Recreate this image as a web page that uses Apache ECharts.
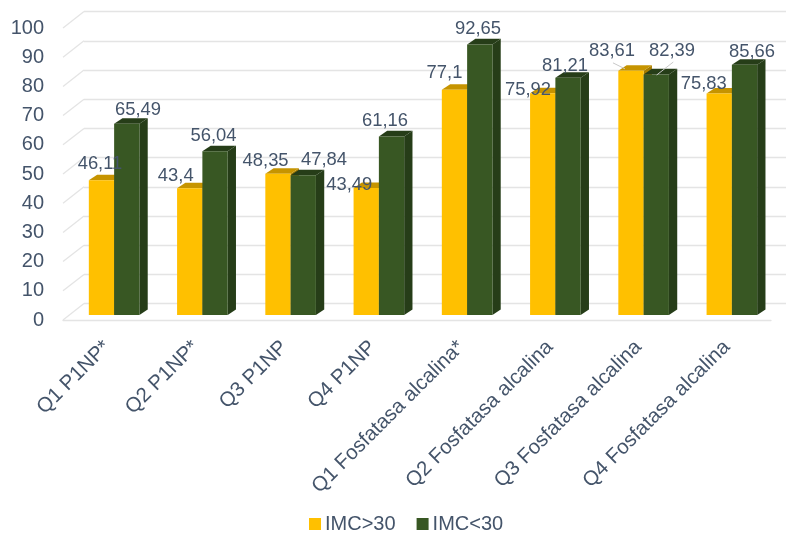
<!DOCTYPE html>
<html>
<head>
<meta charset="utf-8">
<style>html,body{margin:0;padding:0;background:#fff}#c{width:786px;height:534px}</style>
<script src="https://cdn.jsdelivr.net/npm/echarts@6/dist/echarts.min.js"></script>
</head>
<body>
<div id="c"></div>
<script>
// Values per quartile and marker
const categories = ['Q1 P1NP*','Q2 P1NP*','Q3 P1NP','Q4 P1NP','Q1 Fosfatasa alcalina*','Q2 Fosfatasa alcalina','Q3 Fosfatasa alcalina','Q4 Fosfatasa alcalina'];
const imcOver30 = [46.11,43.4,48.35,43.49,77.1,75.92,83.61,75.83];
const imcUnder30 = [65.49,56.04,47.84,61.16,92.65,81.21,82.39,85.66];
const valueTicks = [0,10,20,30,40,50,60,70,80,90,100];

// Hand-placed label offsets (px) from each bar's top centre
const overLabelShift = [[-1.5,-16],[-14,-12],[-12.4,-13],[-17,-3],[-10,-17],[-14.7,-3],[-19,-20],[-15.5,-9.6]];
const underLabelShift = [[11.2,-14],[-1.5,-15.4],[20.7,-15],[-6.5,-15],[-1.8,-15.5],[-3,-12],[15.7,-23],[7.5,-13]];
// Leader lines for the two crowded labels: series, category, then start and end offsets
const leaders = [[0,6,-18,-8,-6,-2],[1,6,17,-12.4,0.4,0.6]];

const font = 'Liberation Sans, Arial, sans-serif';
const inkColor = '#44546A';
const wallLine = '#E4E4E4';
const barWidth = 25.3, depthX = 8.3, depthY = 5.6;
const wallX = 21, wallY = -16.4;

const yellow = {front:'#FFC000', top:'#C69400', side:'#A67C00'};
const green = {front:'#385723', top:'#263D18', side:'#263D18'};

function barRenderer(shade, side) {
  return function (params, api) {
    const cat = api.value(0), val = api.value(1);
    const top = api.coord([cat, val]), base = api.coord([cat, 0]);
    const x0 = side < 0 ? top[0] - barWidth : top[0];
    const x1 = x0 + barWidth, yT = top[1], yB = base[1];
    const poly = (pts, fill) => ({type:'polygon', shape:{points:pts}, style:{fill:fill}});
    return {type:'group', children:[
      poly([[x1,yT],[x1+depthX,yT-depthY],[x1+depthX,yB-depthY],[x1,yB]], shade.side),
      poly([[x0,yT],[x0+depthX,yT-depthY],[x1+depthX,yT-depthY],[x1,yT]], shade.top),
      poly([[x0,yT],[x1,yT],[x1,yB],[x0,yB]], shade.front)
    ]};
  };
}

// Value labels with a separate layer above both bar series
function labelRenderer(params, api) {
  const cat = api.value(0), val = api.value(1), s = api.value(2);
  const top = api.coord([cat, val]);
  const shift = (s === 0 ? overLabelShift : underLabelShift)[cat];
  const cx = top[0] + (s === 0 ? -barWidth/2 : barWidth/2);
  const children = [{type:'text', style:{
    text:String(val).replace('.',','), x:cx+shift[0], y:top[1]+shift[1],
    fill:inkColor, font:'18.4px '+font, align:'center', verticalAlign:'middle'
  }}];
  leaders.forEach(l => {
    if (l[0] === s && l[1] === cat) {
      children.push({type:'line', shape:{x1:cx+l[2],y1:top[1]+l[3],x2:cx+l[4],y2:top[1]+l[5]},
        style:{stroke:'#C9C9C9', lineWidth:1}});
    }
  });
  return {type:'group', children};
}

// Slanted strokes of the side wall and floor
function wallRenderer(params, api) {
  const p = api.coord([0, api.value(0)]);
  const y = p[1];
  const x = params.coordSys.x;
  return {type:'line', shape:{x1:x,y1:y,x2:x+wallX,y2:y+wallY}, style:{stroke:wallLine, lineWidth:1.3}};
}

const labelRows = [];
imcOver30.forEach((v,i)=>labelRows.push([i,v,0]));
imcUnder30.forEach((v,i)=>labelRows.push([i,v,1]));

const chart = echarts.init(document.getElementById('c'), null, {renderer:'canvas'});
chart.setOption({
  animation:false,
  backgroundColor:'#fff',
  grid:[
    {left:63, right:15, top:28, bottom:214},
    {left:84, right:0, top:11.6, bottom:230.4},
    {left:70, width:706, top:23, bottom:219}
  ],
  xAxis:[
    {gridIndex:0, type:'category', data:categories, axisTick:{show:false}, axisLine:{lineStyle:{color:wallLine, width:1.3}},
     axisLabel:{rotate:45, interval:0, margin:24, color:inkColor, fontFamily:font, fontSize:20.5}},
    {gridIndex:1, type:'category', data:categories, axisTick:{show:false}, axisLabel:{show:false}, axisLine:{show:false}},
    {gridIndex:2, type:'category', data:categories, axisTick:{show:false}, axisLine:{show:false}, axisLabel:{show:false}}
  ],
  yAxis:[
    {gridIndex:0, type:'value', min:0, max:100, interval:10, splitLine:{show:false}, axisLine:{show:false}, axisTick:{show:false},
     axisLabel:{color:inkColor, fontFamily:font, fontSize:20, margin:19, padding:[3,0,0,0]}},
    {gridIndex:1, type:'value', min:0, max:100, interval:10, axisLine:{show:false}, axisTick:{show:false}, axisLabel:{show:false},
     splitLine:{lineStyle:{color:wallLine, width:1.3}}},
    {gridIndex:2, type:'value', min:0, max:100, interval:10, show:false, splitLine:{show:false}}
  ],
  legend:{
    left:309, top:514, padding:0, itemWidth:12, itemHeight:12, itemGap:21,
    data:['IMC>30','IMC<30'], icon:'rect',
    textStyle:{color:inkColor, fontFamily:font, fontSize:20, padding:[0,0,0,-1]}
  },
  series:[
    {type:'custom', name:'walls', xAxisIndex:0, yAxisIndex:0, silent:true, renderItem:wallRenderer,
     data:valueTicks.map(t=>[t]), encode:{y:0}, z:1},
    {type:'custom', name:'IMC>30', xAxisIndex:2, yAxisIndex:2, renderItem:barRenderer(yellow,-1),
     itemStyle:{color:yellow.front}, data:imcOver30.map((v,i)=>[i,v]), encode:{x:0,y:1}, z:3},
    {type:'custom', name:'IMC<30', xAxisIndex:2, yAxisIndex:2, renderItem:barRenderer(green,1),
     itemStyle:{color:green.front}, data:imcUnder30.map((v,i)=>[i,v]), encode:{x:0,y:1}, z:4},
    {type:'custom', name:'valueLabels', xAxisIndex:2, yAxisIndex:2, silent:true, renderItem:labelRenderer,
     data:labelRows, encode:{x:0,y:1}, z:5}
  ]
});
</script>
</body>
</html>
